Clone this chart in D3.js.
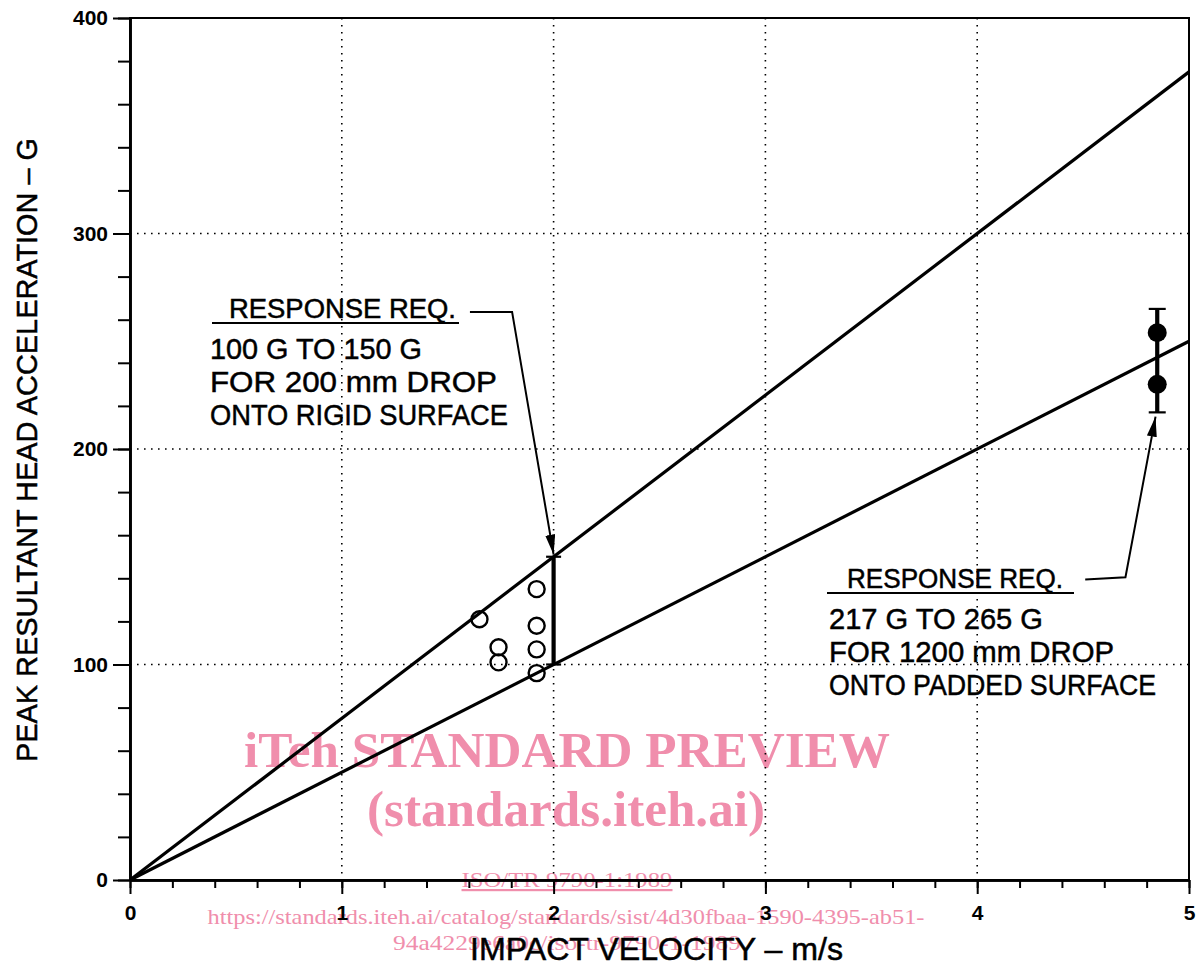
<!DOCTYPE html>
<html>
<head>
<meta charset="utf-8">
<script src="https://cdn.jsdelivr.net/npm/d3@7"></script>
<style>
  body { margin: 0; background: #fff; }
  svg { display: block; }
</style>
</head>
<body>
<svg id="chart" width="1204" height="974"></svg>
<script>
// ---- data ----
var lineVelocity = [0, 5];
var upperAccel = [0, 375];   // 75 G per m/s
var lowerAccel = [0, 250];   // 50 G per m/s

var openVelocity = [1.65, 1.74, 1.74, 1.92, 1.92, 1.92, 1.92];
var openAccel = [121, 108, 101, 135, 118, 107, 96];

var filledVelocity = [4.85, 4.85];
var filledAccel = [254, 230];

var rigidReq = [2, 100, 150];      // velocity, low G, high G
var paddedReq = [4.85, 217, 265];

var xMajor = [0, 1, 2, 3, 4, 5];
var xMinor = d3.range(0, 5.01, 0.2);
var yMajor = [0, 100, 200, 300, 400];
var yMinor = d3.range(0, 401, 20);
var xGrid = [1, 2, 3, 4];
var yGrid = [100, 200, 300];

// leader lines (velocity, G)
var rigidLeader = [[1.605, 263.6], [1.804, 263.6], [2, 151]];
var paddedLeader = [[4.51, 139.5], [4.70, 140.5], [4.842, 215]];

var rigidText = ["100 G TO 150 G", "FOR 200 mm DROP", "ONTO RIGID SURFACE"];
var paddedText = ["217 G TO 265 G", "FOR 1200 mm DROP", "ONTO PADDED SURFACE"];

var FONT = "'Liberation Sans', Arial, sans-serif";
var SERIF = "'Liberation Serif', 'Times New Roman', serif";
var PINK = "rgb(240,142,172)";

var svg = d3.select("#chart");

var x = d3.scaleLinear().domain([0, 5]).range([130, 1189]);
var y = d3.scaleLinear().domain([0, 400]).range([880, 18]);

// ---- watermark (under the drawing) ----
var wm = svg.append("g").attr("fill", PINK).attr("font-family", SERIF).attr("text-anchor", "middle");
wm.append("text").attr("x", 567).attr("y", 767).attr("font-size", 50).attr("font-weight", "bold")
	.attr("textLength", 646).attr("lengthAdjust", "spacingAndGlyphs")
	.text("iTeh STANDARD PREVIEW");
wm.append("text").attr("x", 566).attr("y", 826).attr("font-size", 50).attr("font-weight", "bold")
	.attr("textLength", 398).attr("lengthAdjust", "spacingAndGlyphs")
	.text("(standards.iteh.ai)");
wm.append("text").attr("x", 567).attr("y", 887).attr("font-size", 22)
	.attr("text-decoration", "underline")
	.attr("textLength", 211).attr("lengthAdjust", "spacingAndGlyphs")
	.text("ISO/TR 9790-1:1989");
wm.append("text").attr("x", 566).attr("y", 924).attr("font-size", 22)
	.attr("textLength", 717).attr("lengthAdjust", "spacingAndGlyphs")
	.text("https://standards.iteh.ai/catalog/standards/sist/4d30fbaa-1590-4395-ab51-");
wm.append("text").attr("x", 567).attr("y", 950).attr("font-size", 22)
	.attr("textLength", 348).attr("lengthAdjust", "spacingAndGlyphs")
	.text("94a4229e6a0c/iso-tr-9790-1-1989");

// ---- grid ----
var grid = svg.append("g").attr("stroke", "#000").attr("stroke-width", 1.6)
	.attr("stroke-dasharray", "1.6,5.4");
grid.selectAll("line.vg").data(xGrid).enter().append("line")
	.attr("x1", function(d) { return x(d); }).attr("x2", function(d) { return x(d); })
	.attr("y1", y(400)).attr("y2", y(0));
grid.selectAll("line.hg").data(yGrid).enter().append("line")
	.attr("y1", function(d) { return y(d); }).attr("y2", function(d) { return y(d); })
	.attr("x1", x(0)).attr("x2", x(5));

// frame
svg.append("rect").attr("x", x(0)).attr("y", y(400))
	.attr("width", x(5) - x(0)).attr("height", y(0) - y(400))
	.attr("fill", "none").attr("stroke", "#000").attr("stroke-width", 2);

// ---- axes ----
function styleAxis(g, w) {
	g.attr("font-family", FONT).attr("font-size", 21).attr("font-weight", "bold");
	g.select(".domain").attr("stroke-width", w);
	g.selectAll(".tick line").attr("stroke-width", 2);
	g.selectAll(".tick text").attr("fill", "#000");
}

var xMinorAxis = svg.append("g").attr("transform", "translate(0," + y(0) + ")")
	.call(d3.axisBottom(x).tickValues(xMinor).tickSize(8).tickSizeOuter(0).tickFormat(""));
styleAxis(xMinorAxis, 2.6);
var xAxis = svg.append("g").attr("transform", "translate(0," + y(0) + ")")
	.call(d3.axisBottom(x).tickValues(xMajor).tickSize(14).tickSizeOuter(0).tickPadding(11).tickFormat(d3.format("d")));
styleAxis(xAxis, 2.6);

var yMinorAxis = svg.append("g").attr("transform", "translate(" + x(0) + ",0)")
	.call(d3.axisLeft(y).tickValues(yMinor).tickSize(12).tickSizeOuter(0).tickFormat(""));
styleAxis(yMinorAxis, 2.6);
var yAxis = svg.append("g").attr("transform", "translate(" + x(0) + ",0)")
	.call(d3.axisLeft(y).tickValues(yMajor).tickSize(17).tickSizeOuter(0).tickPadding(5).tickFormat(d3.format("d")));
styleAxis(yAxis, 2.6);

// axis titles
svg.append("text").attr("x", 470).attr("y", 960)
	.attr("font-family", FONT).attr("font-size", 31)
	.attr("stroke", "#000").attr("stroke-width", 0.5)
	.attr("textLength", 373).attr("lengthAdjust", "spacingAndGlyphs")
	.text("IMPACT VELOCITY \u2013 m/s");
svg.append("text").attr("transform", "translate(37,450) rotate(-90)")
	.attr("text-anchor", "middle")
	.attr("font-family", FONT).attr("font-size", 30)
	.attr("stroke", "#000").attr("stroke-width", 0.5)
	.attr("textLength", 624).attr("lengthAdjust", "spacingAndGlyphs")
	.text("PEAK RESULTANT HEAD ACCELERATION \u2013 G");

// ---- response lines ----
var line = d3.line().x(function(d) { return x(d[0]); }).y(function(d) { return y(d[1]); });
[upperAccel, lowerAccel].forEach(function(acc) {
	svg.append("path")
		.datum(lineVelocity.map(function(v, i) { return [v, acc[i]]; }))
		.attr("d", line)
		.attr("fill", "none").attr("stroke", "#000").attr("stroke-width", 3.2);
});

// ---- requirement bars ----
function reqBar(r, w, capW) {
	var g = svg.append("g").attr("stroke", "#000");
	g.append("line").attr("x1", x(r[0])).attr("x2", x(r[0]))
		.attr("y1", y(r[1])).attr("y2", y(r[2])).attr("stroke-width", w);
	[r[1], r[2]].forEach(function(v) {
		g.append("line").attr("x1", x(r[0]) - capW / 2).attr("x2", x(r[0]) + capW / 2)
			.attr("y1", y(v)).attr("y2", y(v)).attr("stroke-width", 2.2);
	});
}
reqBar(rigidReq, 4.2, 15);
reqBar(paddedReq, 4.2, 17);

// ---- data points ----
svg.selectAll("circle.open").data(openVelocity).enter().append("circle")
	.attr("cx", function(d) { return x(d); })
	.attr("cy", function(d, i) { return y(openAccel[i]); })
	.attr("r", 8).attr("fill", "none").attr("stroke", "#000").attr("stroke-width", 2.4);
svg.selectAll("circle.filled").data(filledVelocity).enter().append("circle")
	.attr("cx", function(d) { return x(d); })
	.attr("cy", function(d, i) { return y(filledAccel[i]); })
	.attr("r", 9.5).attr("fill", "#000");

// ---- arrow leaders ----
svg.append("defs").append("marker")
	.attr("id", "arrow").attr("markerUnits", "userSpaceOnUse")
	.attr("viewBox", "0 0 20 10").attr("refX", 20).attr("refY", 5)
	.attr("markerWidth", 20).attr("markerHeight", 10).attr("orient", "auto")
	.append("path").attr("d", "M0,0L20,5L0,10Z").attr("fill", "#000");

[rigidLeader, paddedLeader].forEach(function(pts) {
	svg.append("path").datum(pts).attr("d", line)
		.attr("fill", "none").attr("stroke", "#000").attr("stroke-width", 2)
		.attr("marker-end", "url(#arrow)");
});

// ---- annotation text ----
function annotate(x0, headX, headY, headLen, underline, lines, lens) {
	var g = svg.append("g").attr("font-family", FONT).attr("fill", "#000")
		.attr("stroke", "#000").attr("stroke-width", 0.5);
	g.append("text").attr("x", headX).attr("y", headY).attr("font-size", 27)
		.attr("textLength", headLen).attr("lengthAdjust", "spacingAndGlyphs")
		.text("RESPONSE REQ.");
	g.append("line").attr("x1", underline[0]).attr("x2", underline[1])
		.attr("y1", headY + 5).attr("y2", headY + 5)
		.attr("stroke-width", 2);
	lines.forEach(function(t, i) {
		g.append("text").attr("x", x0).attr("y", headY + 41 + i * 33)
			.attr("font-size", 30)
			.attr("textLength", lens[i]).attr("lengthAdjust", "spacingAndGlyphs")
			.text(t);
	});
}
annotate(210, 229, 318, 227, [212, 459], rigidText, [212, 287, 298]);
annotate(829, 847, 588, 216, [827, 1074], paddedText, [214, 285, 327]);
</script>
</body>
</html>
